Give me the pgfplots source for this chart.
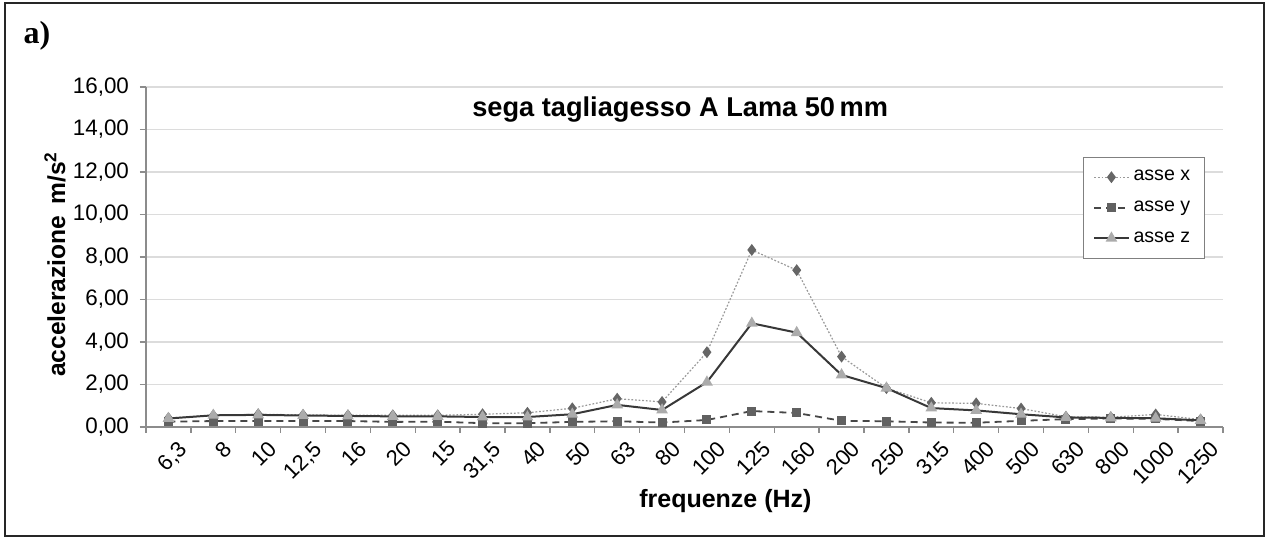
\documentclass[border=0pt]{standalone}
\usepackage{fontspec}
\setmainfont{Liberation Sans}
\newfontfamily\timesfont{Liberation Serif}
\usepackage{pgfplots}
\usepackage{pgfplotstable}
\pgfplotsset{compat=1.18}
\definecolor{gridc}{HTML}{DCDCDC}

\pgfplotstableread{
i x y z
0 0.42 0.25 0.40
1 0.55 0.28 0.55
2 0.60 0.28 0.57
3 0.57 0.28 0.54
4 0.55 0.28 0.52
5 0.55 0.24 0.50
6 0.55 0.25 0.50
7 0.60 0.18 0.47
8 0.67 0.18 0.47
9 0.88 0.24 0.60
10 1.33 0.27 1.04
11 1.18 0.21 0.80
12 3.52 0.33 2.11
13 8.33 0.75 4.88
14 7.38 0.66 4.44
15 3.31 0.29 2.45
16 1.83 0.27 1.83
17 1.14 0.21 0.89
18 1.11 0.20 0.78
19 0.87 0.29 0.60
20 0.48 0.37 0.45
21 0.46 0.40 0.43
22 0.59 0.38 0.41
23 0.35 0.28 0.31
}\datatab

\begin{document}
\begin{tikzpicture}
\useasboundingbox (-73pt,213.5pt) rectangle (561.5pt,-56pt);
\draw[line width=1pt, black!85] (-70.5pt,212pt) rectangle (559pt,-54.5pt);
\node[font=\timesfont\bfseries\fontsize{16}{18}\selectfont] at (-54.5pt,195.5pt) {a)};
\begin{axis}[
  at={(0pt,0pt)}, anchor=south west,
  scale only axis, width=538.5pt, height=170pt,
  xmin=-0.5, xmax=23.5, ymin=0, ymax=16,
  axis x line*=bottom, axis y line*=left,
  axis line style={-, draw=black!45, line width=0.9pt},
  tick align=outside,
  tick style={draw=black!45, line width=0.7pt},
  major tick length=0pt,
  minor tick length=3pt,
  xtick={0,1,...,23},
  xticklabels={{6,3},8,10,{12,5},16,20,15,{31,5},40,50,63,80,100,125,160,200,250,315,400,500,630,800,1000,1250},
  minor xtick={-0.5,0.5,...,23.5},
  xticklabel style={font=\fontsize{11}{12}\selectfont, rotate=45, anchor=north east, inner sep=1pt, yshift=-6.5pt},
  ytick={0,2,...,16},
  minor ytick={0,2,...,16},
  ymajorgrids,
  grid style={gridc, line width=0.7pt},
  yticklabel style={font=\fontsize{11.2}{12}\selectfont,
    /pgf/number format/fixed, /pgf/number format/fixed zerofill,
    /pgf/number format/precision=2, /pgf/number format/use comma,
    /pgf/number format/assume math mode=true, xshift=-5pt},
  title={sega tagliagesso A Lama 50\,mm},
  title style={at={(0.496,0.897)}, anchor=center, yshift=0pt, font=\bfseries\fontsize{13.6}{16}\selectfont},
  xlabel={frequenze (Hz)},
  xlabel style={at={(0.538,-0.218)}, anchor=center, font=\bfseries\fontsize{12.5}{14}\selectfont},
  ylabel={accelerazione\hspace{0.45em}m/s\textsuperscript{2}},
  ylabel style={at={(-0.0845,0.479)}, anchor=center, font=\bfseries\fontsize{12.3}{14}\selectfont},
  legend style={at={(0.870,0.794)}, anchor=north west, draw=black!50,
    font=\fontsize{9.8}{11}\selectfont, row sep=4.5pt, inner xsep=5pt, inner ysep=4.5pt},
  legend cell align=left,
]
\addplot[color=black!40, line width=0.6pt, dash pattern=on 0.9pt off 0.9pt,
  mark=diamond*, mark size=2.5pt, mark options={solid, fill=black!60, draw=black!60}]
  table[x=i,y=x]{\datatab};
\addlegendentry{asse x}
\addplot[color=black!72, line width=0.9pt, dash pattern=on 3.5pt off 2.5pt,
  mark=square*, mark size=1.8pt, mark options={solid, fill=black!62, draw=black!62}]
  table[x=i,y=y]{\datatab};
\addlegendentry{asse y}
\addplot[color=black!78, line width=1pt,
  mark=triangle*, mark size=2.4pt, mark options={solid, fill=black!33, draw=black!33}]
  table[x=i,y=z]{\datatab};
\addlegendentry{asse z}
\end{axis}
\end{tikzpicture}
\end{document}
